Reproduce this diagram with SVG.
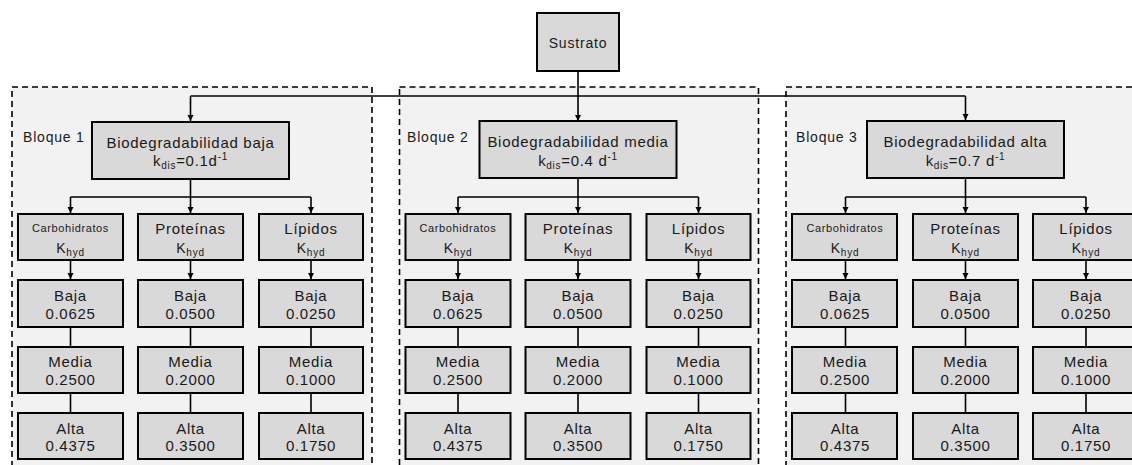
<svg xmlns="http://www.w3.org/2000/svg" width="1132" height="465" viewBox="0 0 1132 465">
<defs>
<marker id="ah" markerUnits="userSpaceOnUse" markerWidth="7" markerHeight="7" refX="6" refY="3" orient="auto">
<path d="M0,0 L6,3 L0,6 z" fill="#000"/>
</marker>
<style>
.box{fill:#d9d9d9;stroke:#000;stroke-width:2}
.blk{fill:#f2f2f2;stroke:#000;stroke-width:1.6;stroke-dasharray:6 4}
.t{font-family:"Liberation Sans",Arial,sans-serif;fill:#1a1a1a;text-anchor:middle}
.l{text-anchor:start}
.f15{font-size:15px;letter-spacing:0.7px}
.f14{font-size:14px;letter-spacing:0.8px}
.f11{font-size:11px;letter-spacing:0.6px}
.c{fill:none;stroke:#000;stroke-width:1.6}
.a{marker-end:url(#ah)}
</style>
</defs>
<rect width="1132" height="465" fill="#fff"/>

<g id="containers">
<rect id="bloque1-area" class="blk" x="12" y="87" width="360" height="400"/>
<rect id="bloque2-area" class="blk" x="399.5" y="87" width="359" height="400"/>
<rect id="bloque3-area" class="blk" x="786" y="87" width="360" height="400"/>
<text class="t l f14" x="23" y="142">Bloque 1</text>
<text class="t l f14" x="407" y="142">Bloque 2</text>
<text class="t l f14" x="796" y="142">Bloque 3</text>
</g>

<g id="connectors">
<path class="c" d="M190.5 96 H965.5"/>
<path class="c a" d="M578 71 V121"/>
<path class="c a" d="M190.5 96 V121"/>
<path class="c a" d="M965.5 96 V120"/>
<!-- block 1 -->
<path class="c" d="M190.5 179 V197 M70.5 197 H311"/>
<path class="c a" d="M70.5 197 V213"/><path class="c a" d="M190.5 197 V213"/><path class="c a" d="M311 197 V213"/>
<path class="c a" d="M70.5 260 V279"/><path class="c a" d="M190.5 260 V279"/><path class="c a" d="M311 260 V279"/>
<path class="c" d="M70.5 327 V347 M190.5 327 V347 M311 327 V347 M70.5 393 V413 M190.5 393 V413 M311 393 V413"/>
<!-- block 2 -->
<path class="c" d="M578 178 V197 M458 197 H698.5"/>
<path class="c a" d="M458 197 V213"/><path class="c a" d="M578 197 V213"/><path class="c a" d="M698.5 197 V213"/>
<path class="c a" d="M458 260 V279"/><path class="c a" d="M578 260 V279"/><path class="c a" d="M698.5 260 V279"/>
<path class="c" d="M458 327 V347 M578 327 V347 M698.5 327 V347 M458 393 V413 M578 393 V413 M698.5 393 V413"/>
<!-- block 3 -->
<path class="c" d="M965.5 178 V197 M845.5 197 H1086"/>
<path class="c a" d="M845.5 197 V213"/><path class="c a" d="M965.5 197 V213"/><path class="c a" d="M1086 197 V213"/>
<path class="c a" d="M845.5 260 V279"/><path class="c a" d="M965.5 260 V279"/><path class="c a" d="M1086 260 V279"/>
<path class="c" d="M845.5 327 V347 M965.5 327 V347 M1086 327 V347 M845.5 393 V413 M965.5 393 V413 M1086 393 V413"/>
</g>

<g id="sustrato">
<rect class="box" x="537" y="13" width="82" height="58"/>
<text class="t f14" x="578" y="47.5">Sustrato</text>
</g>

<!-- Block 1 nodes -->
<g id="bloque1">
<g id="b1-main"><rect class="box" x="92" y="122" width="197" height="57"/>
<text class="t f15" x="190.5" y="147.5">Biodegradabilidad baja</text>
<text class="t f15" x="190.5" y="166">k<tspan font-size="10" dy="3">dis</tspan><tspan dy="-3">=0.1d</tspan><tspan font-size="10" dy="-6">-1</tspan></text></g>
<g id="b1-carb"><rect class="box" x="18" y="214" width="105" height="46"/>
<text class="t f11" x="70.5" y="232">Carbohidratos</text>
<text class="t f14" x="70.5" y="253">K<tspan font-size="10" dy="3">hyd</tspan></text></g>
<g id="b1-prot"><rect class="box" x="138" y="214" width="105" height="46"/>
<text class="t f15" x="190.5" y="234">Proteínas</text>
<text class="t f14" x="190.5" y="253">K<tspan font-size="10" dy="3">hyd</tspan></text></g>
<g id="b1-lip"><rect class="box" x="259" y="214" width="104" height="46"/>
<text class="t f15" x="311" y="234">Lípidos</text>
<text class="t f14" x="311" y="253">K<tspan font-size="10" dy="3">hyd</tspan></text></g>
<g id="b1-carb-baja"><rect class="box" x="18" y="280" width="105" height="47"/><text class="t f15" x="70.5" y="301">Baja</text><text class="t f15" x="70.5" y="318.5">0.0625</text></g>
<g id="b1-prot-baja"><rect class="box" x="138" y="280" width="105" height="47"/><text class="t f15" x="190.5" y="301">Baja</text><text class="t f15" x="190.5" y="318.5">0.0500</text></g>
<g id="b1-lip-baja"><rect class="box" x="259" y="280" width="104" height="47"/><text class="t f15" x="311" y="301">Baja</text><text class="t f15" x="311" y="318.5">0.0250</text></g>
<g id="b1-carb-media"><rect class="box" x="18" y="347" width="105" height="46"/><text class="t f15" x="70.5" y="367">Media</text><text class="t f15" x="70.5" y="384.5">0.2500</text></g>
<g id="b1-prot-media"><rect class="box" x="138" y="347" width="105" height="46"/><text class="t f15" x="190.5" y="367">Media</text><text class="t f15" x="190.5" y="384.5">0.2000</text></g>
<g id="b1-lip-media"><rect class="box" x="259" y="347" width="104" height="46"/><text class="t f15" x="311" y="367">Media</text><text class="t f15" x="311" y="384.5">0.1000</text></g>
<g id="b1-carb-alta"><rect class="box" x="18" y="413" width="105" height="46"/><text class="t f15" x="70.5" y="433.5">Alta</text><text class="t f15" x="70.5" y="451">0.4375</text></g>
<g id="b1-prot-alta"><rect class="box" x="138" y="413" width="105" height="46"/><text class="t f15" x="190.5" y="433.5">Alta</text><text class="t f15" x="190.5" y="451">0.3500</text></g>
<g id="b1-lip-alta"><rect class="box" x="259" y="413" width="104" height="46"/><text class="t f15" x="311" y="433.5">Alta</text><text class="t f15" x="311" y="451">0.1750</text></g>
</g>

<!-- Block 2 nodes -->
<g id="bloque2" transform="translate(387.5,0)">
<g id="b2-main"><rect class="box" x="92" y="121" width="197" height="57"/>
<text class="t f15" x="190.5" y="147">Biodegradabilidad media</text>
<text class="t f15" x="190.5" y="165.5">k<tspan font-size="10" dy="3">dis</tspan><tspan dy="-3">=0.4 d</tspan><tspan font-size="10" dy="-6">-1</tspan></text></g>
<g id="b2-carb"><rect class="box" x="18" y="214" width="105" height="46"/>
<text class="t f11" x="70.5" y="232">Carbohidratos</text>
<text class="t f14" x="70.5" y="253">K<tspan font-size="10" dy="3">hyd</tspan></text></g>
<g id="b2-prot"><rect class="box" x="138" y="214" width="105" height="46"/>
<text class="t f15" x="190.5" y="234">Proteínas</text>
<text class="t f14" x="190.5" y="253">K<tspan font-size="10" dy="3">hyd</tspan></text></g>
<g id="b2-lip"><rect class="box" x="259" y="214" width="104" height="46"/>
<text class="t f15" x="311" y="234">Lípidos</text>
<text class="t f14" x="311" y="253">K<tspan font-size="10" dy="3">hyd</tspan></text></g>
<g id="b2-carb-baja"><rect class="box" x="18" y="280" width="105" height="47"/><text class="t f15" x="70.5" y="301">Baja</text><text class="t f15" x="70.5" y="318.5">0.0625</text></g>
<g id="b2-prot-baja"><rect class="box" x="138" y="280" width="105" height="47"/><text class="t f15" x="190.5" y="301">Baja</text><text class="t f15" x="190.5" y="318.5">0.0500</text></g>
<g id="b2-lip-baja"><rect class="box" x="259" y="280" width="104" height="47"/><text class="t f15" x="311" y="301">Baja</text><text class="t f15" x="311" y="318.5">0.0250</text></g>
<g id="b2-carb-media"><rect class="box" x="18" y="347" width="105" height="46"/><text class="t f15" x="70.5" y="367">Media</text><text class="t f15" x="70.5" y="384.5">0.2500</text></g>
<g id="b2-prot-media"><rect class="box" x="138" y="347" width="105" height="46"/><text class="t f15" x="190.5" y="367">Media</text><text class="t f15" x="190.5" y="384.5">0.2000</text></g>
<g id="b2-lip-media"><rect class="box" x="259" y="347" width="104" height="46"/><text class="t f15" x="311" y="367">Media</text><text class="t f15" x="311" y="384.5">0.1000</text></g>
<g id="b2-carb-alta"><rect class="box" x="18" y="413" width="105" height="46"/><text class="t f15" x="70.5" y="433.5">Alta</text><text class="t f15" x="70.5" y="451">0.4375</text></g>
<g id="b2-prot-alta"><rect class="box" x="138" y="413" width="105" height="46"/><text class="t f15" x="190.5" y="433.5">Alta</text><text class="t f15" x="190.5" y="451">0.3500</text></g>
<g id="b2-lip-alta"><rect class="box" x="259" y="413" width="104" height="46"/><text class="t f15" x="311" y="433.5">Alta</text><text class="t f15" x="311" y="451">0.1750</text></g>
</g>

<!-- Block 3 nodes -->
<g id="bloque3" transform="translate(775,0)">
<g id="b3-main"><rect class="box" x="92" y="121" width="197" height="57"/>
<text class="t f15" x="190.5" y="147">Biodegradabilidad alta</text>
<text class="t f15" x="190.5" y="165.5">k<tspan font-size="10" dy="3">dis</tspan><tspan dy="-3">=0.7 d</tspan><tspan font-size="10" dy="-6">-1</tspan></text></g>
<g id="b3-carb"><rect class="box" x="17" y="214" width="105" height="46"/>
<text class="t f11" x="70" y="232">Carbohidratos</text>
<text class="t f14" x="70" y="253">K<tspan font-size="10" dy="3">hyd</tspan></text></g>
<g id="b3-prot"><rect class="box" x="138" y="214" width="105" height="46"/>
<text class="t f15" x="190.5" y="234">Proteínas</text>
<text class="t f14" x="190.5" y="253">K<tspan font-size="10" dy="3">hyd</tspan></text></g>
<g id="b3-lip"><rect class="box" x="258" y="214" width="105" height="46"/>
<text class="t f15" x="311" y="234">Lípidos</text>
<text class="t f14" x="311" y="253">K<tspan font-size="10" dy="3">hyd</tspan></text></g>
<g id="b3-carb-baja"><rect class="box" x="17" y="280" width="105" height="47"/><text class="t f15" x="70" y="301">Baja</text><text class="t f15" x="70" y="318.5">0.0625</text></g>
<g id="b3-prot-baja"><rect class="box" x="138" y="280" width="105" height="47"/><text class="t f15" x="190.5" y="301">Baja</text><text class="t f15" x="190.5" y="318.5">0.0500</text></g>
<g id="b3-lip-baja"><rect class="box" x="258" y="280" width="105" height="47"/><text class="t f15" x="311" y="301">Baja</text><text class="t f15" x="311" y="318.5">0.0250</text></g>
<g id="b3-carb-media"><rect class="box" x="17" y="347" width="105" height="46"/><text class="t f15" x="70" y="367">Media</text><text class="t f15" x="70" y="384.5">0.2500</text></g>
<g id="b3-prot-media"><rect class="box" x="138" y="347" width="105" height="46"/><text class="t f15" x="190.5" y="367">Media</text><text class="t f15" x="190.5" y="384.5">0.2000</text></g>
<g id="b3-lip-media"><rect class="box" x="258" y="347" width="105" height="46"/><text class="t f15" x="311" y="367">Media</text><text class="t f15" x="311" y="384.5">0.1000</text></g>
<g id="b3-carb-alta"><rect class="box" x="17" y="413" width="105" height="46"/><text class="t f15" x="70" y="433.5">Alta</text><text class="t f15" x="70" y="451">0.4375</text></g>
<g id="b3-prot-alta"><rect class="box" x="138" y="413" width="105" height="46"/><text class="t f15" x="190.5" y="433.5">Alta</text><text class="t f15" x="190.5" y="451">0.3500</text></g>
<g id="b3-lip-alta"><rect class="box" x="258" y="413" width="105" height="46"/><text class="t f15" x="311" y="433.5">Alta</text><text class="t f15" x="311" y="451">0.1750</text></g>
</g>
</svg>
